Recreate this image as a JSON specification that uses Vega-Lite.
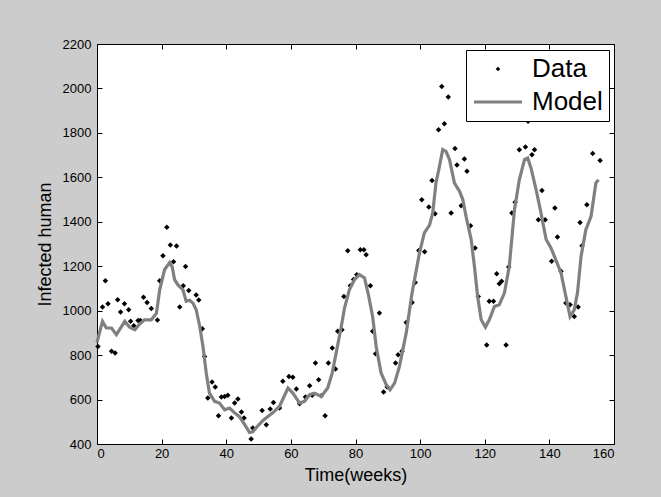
{
  "$schema": "https://vega.github.io/schema/vega-lite/v6.json",
  "width": 517,
  "height": 400,
  "autosize": "none",
  "padding": {"left": 97, "top": 44, "right": 47, "bottom": 53},
  "background": "#cccccc",
  "config": {
    "view": {"stroke": "#000000", "strokeWidth": 1, "fill": "#ffffff"},
    "font": "Liberation Sans",
    "axis": {
      "domain": false,
      "grid": false,
      "ticks": true,
      "tickColor": "#000000",
      "tickOpacity": 1,
      "tickWidth": 1,
      "tickSize": 5,
      "offset": -5,
      "labelFont": "Liberation Sans",
      "labelFontSize": 13,
      "labelColor": "#000000",
      "titleFont": "Liberation Sans",
      "titleFontSize": 18,
      "titleFontWeight": "normal",
      "titleColor": "#000000"
    }
  },
  "datasets": {
    "pts": [
      {"week": 0.3, "value": 839, "series": "Data"},
      {"week": 1.7, "value": 1016, "series": "Data"},
      {"week": 2.6, "value": 1135, "series": "Data"},
      {"week": 3.4, "value": 1031, "series": "Data"},
      {"week": 4.5, "value": 817, "series": "Data"},
      {"week": 5.6, "value": 810, "series": "Data"},
      {"week": 6.4, "value": 1049, "series": "Data"},
      {"week": 7.3, "value": 994, "series": "Data"},
      {"week": 8.5, "value": 1031, "series": "Data"},
      {"week": 9.8, "value": 1004, "series": "Data"},
      {"week": 10.4, "value": 952, "series": "Data"},
      {"week": 11.4, "value": 932, "series": "Data"},
      {"week": 12.7, "value": 956, "series": "Data"},
      {"week": 13.4, "value": 956, "series": "Data"},
      {"week": 14.4, "value": 1060, "series": "Data"},
      {"week": 15.5, "value": 1037, "series": "Data"},
      {"week": 16.8, "value": 1010, "series": "Data"},
      {"week": 18.7, "value": 958, "series": "Data"},
      {"week": 19.4, "value": 1135, "series": "Data"},
      {"week": 20.4, "value": 1247, "series": "Data"},
      {"week": 21.6, "value": 1375, "series": "Data"},
      {"week": 22.7, "value": 1295, "series": "Data"},
      {"week": 23.7, "value": 1220, "series": "Data"},
      {"week": 24.6, "value": 1291, "series": "Data"},
      {"week": 25.6, "value": 1016, "series": "Data"},
      {"week": 26.7, "value": 1112, "series": "Data"},
      {"week": 27.4, "value": 1199, "series": "Data"},
      {"week": 28.4, "value": 1091, "series": "Data"},
      {"week": 30.7, "value": 1070, "series": "Data"},
      {"week": 31.5, "value": 1048, "series": "Data"},
      {"week": 32.6, "value": 919, "series": "Data"},
      {"week": 33.3, "value": 794, "series": "Data"},
      {"week": 34.3, "value": 607, "series": "Data"},
      {"week": 35.6, "value": 679, "series": "Data"},
      {"week": 36.6, "value": 656, "series": "Data"},
      {"week": 37.6, "value": 527, "series": "Data"},
      {"week": 38.5, "value": 611, "series": "Data"},
      {"week": 39.5, "value": 614, "series": "Data"},
      {"week": 40.5, "value": 619, "series": "Data"},
      {"week": 41.6, "value": 517, "series": "Data"},
      {"week": 42.6, "value": 584, "series": "Data"},
      {"week": 43.6, "value": 602, "series": "Data"},
      {"week": 44.7, "value": 544, "series": "Data"},
      {"week": 45.5, "value": 517, "series": "Data"},
      {"week": 47.7, "value": 422, "series": "Data"},
      {"week": 48.2, "value": 472, "series": "Data"},
      {"week": 51.1, "value": 551, "series": "Data"},
      {"week": 52.4, "value": 487, "series": "Data"},
      {"week": 53.6, "value": 557, "series": "Data"},
      {"week": 54.6, "value": 587, "series": "Data"},
      {"week": 56.5, "value": 562, "series": "Data"},
      {"week": 57.5, "value": 682, "series": "Data"},
      {"week": 59.4, "value": 704, "series": "Data"},
      {"week": 60.6, "value": 700, "series": "Data"},
      {"week": 61.7, "value": 647, "series": "Data"},
      {"week": 62.7, "value": 581, "series": "Data"},
      {"week": 64.5, "value": 611, "series": "Data"},
      {"week": 65.8, "value": 662, "series": "Data"},
      {"week": 66.6, "value": 619, "series": "Data"},
      {"week": 67.6, "value": 764, "series": "Data"},
      {"week": 68.6, "value": 689, "series": "Data"},
      {"week": 69.4, "value": 617, "series": "Data"},
      {"week": 70.6, "value": 527, "series": "Data"},
      {"week": 71.6, "value": 764, "series": "Data"},
      {"week": 72.8, "value": 832, "series": "Data"},
      {"week": 73.8, "value": 737, "series": "Data"},
      {"week": 74.5, "value": 907, "series": "Data"},
      {"week": 75.8, "value": 914, "series": "Data"},
      {"week": 76.4, "value": 1064, "series": "Data"},
      {"week": 77.6, "value": 1270, "series": "Data"},
      {"week": 78.4, "value": 1112, "series": "Data"},
      {"week": 79.4, "value": 1140, "series": "Data"},
      {"week": 80.4, "value": 1162, "series": "Data"},
      {"week": 81.5, "value": 1274, "series": "Data"},
      {"week": 82.6, "value": 1274, "series": "Data"},
      {"week": 83.3, "value": 1252, "series": "Data"},
      {"week": 84.6, "value": 1112, "series": "Data"},
      {"week": 85.3, "value": 907, "series": "Data"},
      {"week": 86.2, "value": 806, "series": "Data"},
      {"week": 87.4, "value": 989, "series": "Data"},
      {"week": 88.7, "value": 634, "series": "Data"},
      {"week": 89.8, "value": 656, "series": "Data"},
      {"week": 92.4, "value": 764, "series": "Data"},
      {"week": 93.2, "value": 802, "series": "Data"},
      {"week": 94.4, "value": 817, "series": "Data"},
      {"week": 95.7, "value": 947, "series": "Data"},
      {"week": 97.5, "value": 1037, "series": "Data"},
      {"week": 98.5, "value": 1127, "series": "Data"},
      {"week": 99.6, "value": 1271, "series": "Data"},
      {"week": 100.5, "value": 1499, "series": "Data"},
      {"week": 101.4, "value": 1265, "series": "Data"},
      {"week": 102.7, "value": 1466, "series": "Data"},
      {"week": 103.7, "value": 1586, "series": "Data"},
      {"week": 104.6, "value": 1436, "series": "Data"},
      {"week": 105.7, "value": 1814, "series": "Data"},
      {"week": 106.7, "value": 2009, "series": "Data"},
      {"week": 107.5, "value": 1841, "series": "Data"},
      {"week": 108.7, "value": 1962, "series": "Data"},
      {"week": 109.6, "value": 1440, "series": "Data"},
      {"week": 110.8, "value": 1730, "series": "Data"},
      {"week": 111.4, "value": 1655, "series": "Data"},
      {"week": 112.7, "value": 1472, "series": "Data"},
      {"week": 113.7, "value": 1682, "series": "Data"},
      {"week": 114.5, "value": 1627, "series": "Data"},
      {"week": 115.6, "value": 1382, "series": "Data"},
      {"week": 117.0, "value": 1282, "series": "Data"},
      {"week": 118.0, "value": 1064, "series": "Data"},
      {"week": 120.6, "value": 846, "series": "Data"},
      {"week": 121.4, "value": 1042, "series": "Data"},
      {"week": 122.7, "value": 1042, "series": "Data"},
      {"week": 123.7, "value": 1166, "series": "Data"},
      {"week": 124.5, "value": 1121, "series": "Data"},
      {"week": 125.2, "value": 1132, "series": "Data"},
      {"week": 126.6, "value": 846, "series": "Data"},
      {"week": 127.4, "value": 1197, "series": "Data"},
      {"week": 128.4, "value": 1440, "series": "Data"},
      {"week": 129.4, "value": 1488, "series": "Data"},
      {"week": 130.7, "value": 1724, "series": "Data"},
      {"week": 132.6, "value": 1736, "series": "Data"},
      {"week": 133.4, "value": 1852, "series": "Data"},
      {"week": 134.6, "value": 1702, "series": "Data"},
      {"week": 135.4, "value": 1724, "series": "Data"},
      {"week": 136.6, "value": 1409, "series": "Data"},
      {"week": 137.7, "value": 1541, "series": "Data"},
      {"week": 138.7, "value": 1409, "series": "Data"},
      {"week": 140.7, "value": 1222, "series": "Data"},
      {"week": 141.7, "value": 1462, "series": "Data"},
      {"week": 142.5, "value": 1331, "series": "Data"},
      {"week": 143.6, "value": 1177, "series": "Data"},
      {"week": 145.1, "value": 1034, "series": "Data"},
      {"week": 146.4, "value": 1027, "series": "Data"},
      {"week": 147.7, "value": 974, "series": "Data"},
      {"week": 148.9, "value": 1016, "series": "Data"},
      {"week": 149.5, "value": 1397, "series": "Data"},
      {"week": 150.1, "value": 1292, "series": "Data"},
      {"week": 151.6, "value": 1477, "series": "Data"},
      {"week": 153.4, "value": 1707, "series": "Data"},
      {"week": 155.7, "value": 1676, "series": "Data"}
    ],
    "model": [
      {"week": 0, "value": 857, "series": "Model"},
      {"week": 1.7, "value": 952, "series": "Model"},
      {"week": 2.9, "value": 922, "series": "Model"},
      {"week": 4.5, "value": 922, "series": "Model"},
      {"week": 6, "value": 892, "series": "Model"},
      {"week": 8.6, "value": 952, "series": "Model"},
      {"week": 10.1, "value": 925, "series": "Model"},
      {"week": 11.7, "value": 914, "series": "Model"},
      {"week": 13.2, "value": 940, "series": "Model"},
      {"week": 14.7, "value": 959, "series": "Model"},
      {"week": 16.8, "value": 959, "series": "Model"},
      {"week": 18.4, "value": 989, "series": "Model"},
      {"week": 19.4, "value": 1094, "series": "Model"},
      {"week": 20.9, "value": 1184, "series": "Model"},
      {"week": 22.5, "value": 1217, "series": "Model"},
      {"week": 23.3, "value": 1196, "series": "Model"},
      {"week": 24, "value": 1140, "series": "Model"},
      {"week": 25, "value": 1117, "series": "Model"},
      {"week": 26.6, "value": 1094, "series": "Model"},
      {"week": 27.6, "value": 1042, "series": "Model"},
      {"week": 28.7, "value": 1047, "series": "Model"},
      {"week": 29.7, "value": 1034, "series": "Model"},
      {"week": 30.7, "value": 1004, "series": "Model"},
      {"week": 31.8, "value": 929, "series": "Model"},
      {"week": 32.8, "value": 839, "series": "Model"},
      {"week": 33.8, "value": 720, "series": "Model"},
      {"week": 34.8, "value": 629, "series": "Model"},
      {"week": 36.4, "value": 592, "series": "Model"},
      {"week": 37.9, "value": 584, "series": "Model"},
      {"week": 39.5, "value": 554, "series": "Model"},
      {"week": 41, "value": 562, "series": "Model"},
      {"week": 42.6, "value": 540, "series": "Model"},
      {"week": 44.1, "value": 523, "series": "Model"},
      {"week": 45.7, "value": 487, "series": "Model"},
      {"week": 47.2, "value": 452, "series": "Model"},
      {"week": 48.2, "value": 455, "series": "Model"},
      {"week": 49.8, "value": 482, "series": "Model"},
      {"week": 51.3, "value": 505, "series": "Model"},
      {"week": 52.4, "value": 518, "series": "Model"},
      {"week": 54.4, "value": 540, "series": "Model"},
      {"week": 56.5, "value": 570, "series": "Model"},
      {"week": 59.1, "value": 652, "series": "Model"},
      {"week": 60.6, "value": 629, "series": "Model"},
      {"week": 62.7, "value": 584, "series": "Model"},
      {"week": 64.2, "value": 592, "series": "Model"},
      {"week": 65.8, "value": 622, "series": "Model"},
      {"week": 67.3, "value": 629, "series": "Model"},
      {"week": 69.4, "value": 614, "series": "Model"},
      {"week": 71.4, "value": 652, "series": "Model"},
      {"week": 72.8, "value": 720, "series": "Model"},
      {"week": 74, "value": 809, "series": "Model"},
      {"week": 75.6, "value": 929, "series": "Model"},
      {"week": 76.6, "value": 1012, "series": "Model"},
      {"week": 78.1, "value": 1094, "series": "Model"},
      {"week": 79.7, "value": 1140, "series": "Model"},
      {"week": 81.2, "value": 1162, "series": "Model"},
      {"week": 82.8, "value": 1147, "series": "Model"},
      {"week": 84.1, "value": 1064, "series": "Model"},
      {"week": 85.3, "value": 974, "series": "Model"},
      {"week": 86.4, "value": 839, "series": "Model"},
      {"week": 87.9, "value": 720, "series": "Model"},
      {"week": 89.5, "value": 667, "series": "Model"},
      {"week": 90.7, "value": 644, "series": "Model"},
      {"week": 92.1, "value": 674, "series": "Model"},
      {"week": 93.6, "value": 749, "series": "Model"},
      {"week": 95.7, "value": 900, "series": "Model"},
      {"week": 97.5, "value": 1080, "series": "Model"},
      {"week": 99.8, "value": 1260, "series": "Model"},
      {"week": 101.3, "value": 1350, "series": "Model"},
      {"week": 102.9, "value": 1385, "series": "Model"},
      {"week": 103.9, "value": 1440, "series": "Model"},
      {"week": 104.9, "value": 1575, "series": "Model"},
      {"week": 106, "value": 1650, "series": "Model"},
      {"week": 107, "value": 1725, "series": "Model"},
      {"week": 108, "value": 1717, "series": "Model"},
      {"week": 109.1, "value": 1680, "series": "Model"},
      {"week": 110.6, "value": 1575, "series": "Model"},
      {"week": 112.2, "value": 1537, "series": "Model"},
      {"week": 113.2, "value": 1500, "series": "Model"},
      {"week": 114.2, "value": 1425, "series": "Model"},
      {"week": 115.8, "value": 1320, "series": "Model"},
      {"week": 116.8, "value": 1200, "series": "Model"},
      {"week": 117.8, "value": 1064, "series": "Model"},
      {"week": 118.9, "value": 959, "series": "Model"},
      {"week": 120.2, "value": 926, "series": "Model"},
      {"week": 121.4, "value": 959, "series": "Model"},
      {"week": 123, "value": 1019, "series": "Model"},
      {"week": 124.5, "value": 1027, "series": "Model"},
      {"week": 126.1, "value": 1080, "series": "Model"},
      {"week": 127.6, "value": 1200, "series": "Model"},
      {"week": 129.2, "value": 1454, "series": "Model"},
      {"week": 130.7, "value": 1589, "series": "Model"},
      {"week": 132.3, "value": 1680, "series": "Model"},
      {"week": 133.3, "value": 1687, "series": "Model"},
      {"week": 134.3, "value": 1642, "series": "Model"},
      {"week": 135.9, "value": 1544, "series": "Model"},
      {"week": 137.4, "value": 1440, "series": "Model"},
      {"week": 139, "value": 1320, "series": "Model"},
      {"week": 140.5, "value": 1282, "series": "Model"},
      {"week": 142, "value": 1229, "series": "Model"},
      {"week": 143.6, "value": 1170, "series": "Model"},
      {"week": 145.1, "value": 1064, "series": "Model"},
      {"week": 146.4, "value": 974, "series": "Model"},
      {"week": 147.7, "value": 1004, "series": "Model"},
      {"week": 148.7, "value": 1080, "series": "Model"},
      {"week": 149.8, "value": 1244, "series": "Model"},
      {"week": 151.3, "value": 1365, "series": "Model"},
      {"week": 152.9, "value": 1425, "series": "Model"},
      {"week": 154.4, "value": 1575, "series": "Model"},
      {"week": 155.2, "value": 1589, "series": "Model"}
    ]
  },
  "layer": [
    {
      "data": {"name": "pts"},
      "mark": {"type": "point", "shape": "diamond", "filled": true, "size": 30, "opacity": 1},
      "encoding": {
        "x": {
          "field": "week", "type": "quantitative",
          "scale": {"domain": [0, 160], "nice": false},
          "axis": {"orient": "bottom", "values": [0, 20, 40, 60, 80, 100, 120, 140, 160], "title": "Time(weeks)", "labelPadding": 3, "titlePadding": 6}
        },
        "y": {
          "field": "value", "type": "quantitative",
          "scale": {"domain": [400, 2200], "nice": false, "zero": false},
          "axis": {"orient": "left", "values": [400, 600, 800, 1000, 1200, 1400, 1600, 1800, 2000, 2200], "format": "d", "title": "Infected human", "labelPadding": 6, "titlePadding": 8}
        },
        "color": {
          "field": "series", "type": "nominal",
          "scale": {"domain": ["Data", "Model"], "range": ["#000000", "#808080"]},
          "legend": {
            "orient": "none", "legendX": 369, "legendY": 6, "title": null,
            "fillColor": "#ffffff", "strokeColor": "#000000", "padding": 6,
            "labelFont": "Liberation Sans", "labelFontSize": 26, "labelColor": "#000000",
            "symbolSize": 100, "labelOffset": 34, "rowPadding": 7, "labelLimit": 300,
            "encoding": {
              "symbols": {
                "shape": {"value": {"expr": "datum.value === 'Model' ? 'stroke' : 'diamond'"}},
                "size": {"value": {"expr": "datum.value === 'Model' ? 2304 : 22"}},
                "strokeWidth": {"value": {"expr": "datum.value === 'Model' ? 3 : 0"}},
                "stroke": {"value": {"expr": "datum.value === 'Model' ? '#808080' : '#000000'"}},
                "fill": {"value": {"expr": "datum.value === 'Model' ? 'transparent' : '#000000'"}},
                "opacity": {"value": 1},
                "x": {"value": 26}
              }
            }
          }
        }
      }
    },
    {
      "data": {"name": "model"},
      "mark": {"type": "line", "strokeWidth": 3.2, "interpolate": "linear"},
      "encoding": {
        "x": {
          "field": "week", "type": "quantitative",
          "axis": {"orient": "top", "values": [0, 20, 40, 60, 80, 100, 120, 140, 160], "labels": false, "title": null}
        },
        "y": {
          "field": "value", "type": "quantitative",
          "axis": {"orient": "right", "values": [400, 600, 800, 1000, 1200, 1400, 1600, 1800, 2000, 2200], "labels": false, "title": null}
        },
        "color": {"field": "series", "type": "nominal", "legend": null}
      }
    }
  ],
  "resolve": {"axis": {"x": "independent", "y": "independent"}}
}
